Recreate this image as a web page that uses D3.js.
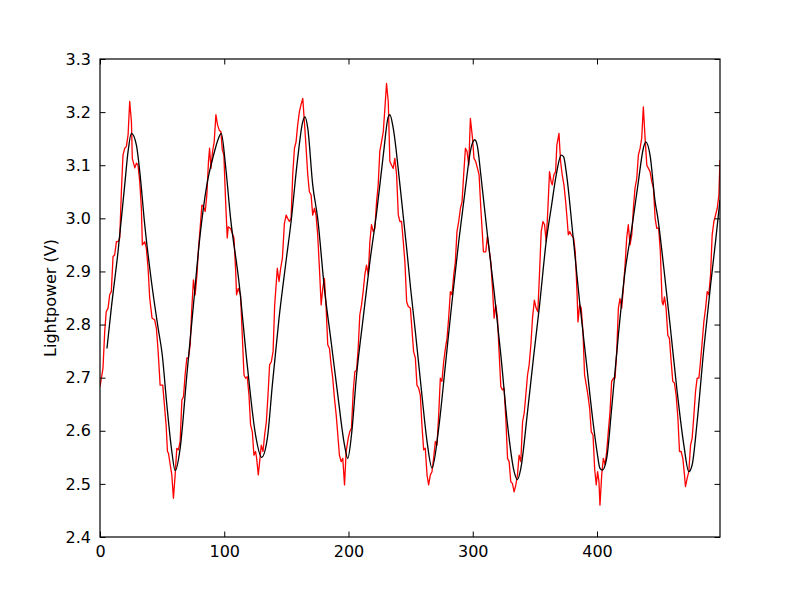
<!DOCTYPE html>
<html>
<head>
<meta charset="utf-8">
<script src="https://cdn.jsdelivr.net/npm/d3@7"></script>
<style>
  html, body { margin: 0; padding: 0; background: #fff; }
  svg { display: block; }
  text { font-family: "DejaVu Sans", sans-serif; }
</style>
</head>
<body>
<svg id="chart" width="800" height="597"></svg>
<script>
// ---- data ----
const xTicks = [0, 100, 200, 300, 400];
const yTicks = [2.4, 2.5, 2.6, 2.7, 2.8, 2.9, 3.0, 3.1, 3.2, 3.3];
const yLabel = "Lightpower (V)";

const rawX = [0,2.4,3.8,5,6.5,7.8,9.1,10.5,11.8,13.2,14.5,15.9,17.2,18.5,19.9,21.2,22.6,23.9,25.3,26,28,29.3,30.6,32,33.3,34.1,36,37.3,38.7,40,41.9,44,45.4,46.8,48.4,50.5,51.6,53.2,54.3,55.1,56.5,57.8,59.1,60.5,61.8,63.1,64.5,65.9,67.2,68.5,69.9,71.2,72.6,73.9,75.2,76.6,78,79.3,80.6,82,83.3,84.7,86,87.3,88.2,89.3,90.6,91.9,93.3,94.6,96,97.3,98.4,99.7,101,102.4,103.2,105.1,106.5,107.8,109.1,109.9,111.3,113.1,114.5,115.9,117.2,118.5,119.9,121.2,122.6,123.9,125.2,126.1,127.4,128.5,129.8,131.2,132.5,133.9,135.2,136.5,137.9,139.3,140.6,142.7,144.1,145.4,146.8,148.4,149.8,151,152.4,153.8,155.1,156.5,157.8,159.1,160.5,161.8,163.2,164.5,165.9,167.2,168.5,169.9,171.2,172.6,173.9,175.2,176.6,178,179.3,180.6,182,183.3,184.7,186,187.3,188.7,190.1,191.4,192.7,194.1,195.4,196.8,198.1,199.8,201,202.4,203.8,205.1,206.5,207.8,209.1,210.5,211.8,213.1,214.5,215.9,217.2,218.5,219.9,221.2,222.6,223.9,225.2,226.6,228,229.3,230.6,232,233.3,234.7,236,237.3,238.7,240.1,241.4,242.7,244.1,245.4,246.8,248.1,249.8,251,252.4,253.8,255.1,256.5,257.8,259.1,260.5,261.8,263.2,264.5,265.9,267.2,268.5,269.9,271.2,272.6,273.9,275.2,276.6,278,279.3,280.6,282,283.3,284.7,286,287.3,288.7,290.1,291.4,292.7,294.1,295.4,296.8,298.1,299.8,301,302.4,303.8,305.1,306.5,307.8,308.6,310.5,311.8,313.1,314.5,315.9,317.2,318.5,319.9,321.2,322.6,323.9,325.2,326.6,328,329.3,330.6,331.9,333.3,334.7,336,337.3,338.7,340.1,341.4,342.7,344.1,345.4,346.8,348.1,349.6,351,352.4,353.8,355.1,356.5,357.8,359.1,360.5,361.8,363.1,364,365.3,366.7,367.7,369.4,370.7,372,373.4,374.8,376.1,376.9,378,379.3,381.2,382.5,383.9,384.7,386,387.3,388.7,390,391.4,392.7,394.1,395.4,396.8,398.1,399.4,400.5,401.6,402.4,403.8,405.1,406.5,407.8,409.1,410.5,411.8,413.2,414.5,415.9,417.2,418.5,419.9,421.2,422.6,423.9,425.2,426.6,428,429.3,430.6,432,433.3,434.7,436,437.3,438.7,440.1,441.4,442.7,444.1,445.4,446.8,448.1,449.6,451,452.4,453.2,454.3,455.6,457,458.3,459.7,461,462.3,463.7,465.1,466.4,467.7,469.1,470.4,471.2,472.6,473.9,475.3,476.6,478,479.3,480.6,482,483.3,484.7,486,487.4,488.7,490,491.4,492.7,494.1,495.4,496.8,498.1,499];
const rawY = [2.683,2.718,2.787,2.824,2.831,2.856,2.862,2.928,2.931,2.956,2.956,2.963,3.05,3.119,3.132,3.135,3.157,3.22,3.182,3.113,3.095,3.104,3.1,3.069,3.019,2.95,2.956,2.944,2.906,2.85,2.812,2.809,2.793,2.749,2.686,2.686,2.655,2.611,2.561,2.558,2.536,2.517,2.473,2.517,2.567,2.564,2.58,2.658,2.664,2.705,2.737,2.737,2.762,2.831,2.884,2.856,2.893,2.944,2.981,3.025,3.022,3.013,3.044,3.107,3.132,3.094,3.126,3.144,3.195,3.176,3.166,3.163,3.13,3.119,3.038,2.963,2.984,2.981,2.972,2.963,2.906,2.856,2.868,2.856,2.78,2.705,2.699,2.702,2.667,2.611,2.598,2.554,2.561,2.548,2.517,2.542,2.573,2.561,2.592,2.617,2.667,2.724,2.73,2.749,2.837,2.906,2.881,2.906,2.925,2.99,3.006,3.0,2.994,3.0,3.082,3.132,3.144,3.176,3.201,3.214,3.226,3.182,3.132,3.082,3.05,3.044,3.006,3.019,3.006,2.969,2.906,2.837,2.868,2.887,2.831,2.762,2.755,2.724,2.699,2.661,2.63,2.592,2.554,2.542,2.548,2.498,2.561,2.586,2.598,2.605,2.674,2.711,2.714,2.755,2.818,2.837,2.862,2.893,2.912,2.893,2.956,2.988,2.975,2.981,3.031,3.063,3.126,3.144,3.163,3.207,3.254,3.22,3.107,3.1,3.094,3.113,3.082,3.006,2.994,2.994,2.956,2.918,2.843,2.834,2.831,2.793,2.749,2.737,2.686,2.68,2.667,2.611,2.564,2.567,2.517,2.498,2.517,2.523,2.548,2.58,2.573,2.63,2.699,2.693,2.73,2.755,2.774,2.812,2.862,2.856,2.893,2.918,2.975,2.994,3.019,3.031,3.082,3.132,3.126,3.1,3.188,3.151,3.113,3.107,3.094,3.082,3.019,2.969,2.937,2.937,2.966,2.944,2.918,2.868,2.812,2.837,2.812,2.749,2.683,2.677,2.68,2.624,2.548,2.542,2.504,2.501,2.485,2.498,2.517,2.554,2.542,2.617,2.633,2.667,2.705,2.724,2.762,2.812,2.846,2.831,2.824,2.9,2.975,2.994,2.988,2.956,3.019,3.088,3.069,3.063,3.082,3.088,3.138,3.16,3.107,3.082,3.063,3.031,2.994,2.969,2.975,2.969,2.963,2.937,2.862,2.805,2.837,2.831,2.787,2.705,2.686,2.667,2.642,2.598,2.592,2.529,2.498,2.523,2.504,2.46,2.517,2.548,2.536,2.561,2.598,2.636,2.693,2.699,2.699,2.749,2.831,2.849,2.831,2.868,2.912,2.963,2.988,2.95,2.969,3.019,3.057,3.075,3.119,3.132,3.151,3.21,3.151,3.1,3.094,3.088,3.069,3.057,3.0,2.981,2.982,2.937,2.843,2.837,2.852,2.831,2.78,2.774,2.73,2.693,2.69,2.667,2.624,2.561,2.561,2.548,2.517,2.495,2.511,2.523,2.573,2.586,2.63,2.674,2.699,2.699,2.73,2.768,2.805,2.831,2.862,2.856,2.893,2.969,2.994,3.006,3.019,3.044,3.11];

const smoothX = [5.6,9.1,14.5,19.9,22.6,25.3,29.3,32,36,41.4,46.8,50,53.8,57.8,60.5,64.5,69.9,75.2,80.6,86,91.4,95.4,97.6,101,105.1,111.8,118.5,125.2,130.1,134.7,138.7,144.1,149.5,153.8,159.1,163.2,165,167.2,171.2,175.2,180.6,186,191.4,196.8,199.4,202.4,206.5,211.8,217.2,222.6,228,232,233.3,236,241.4,246.8,250,253.8,259.1,263.2,267.2,272.6,278,283.3,288.7,294.1,298.4,301.6,303.8,306.5,311.8,317.2,322.6,328,333.3,336,338.7,344.1,349,353.8,359.1,363.1,367.2,371.2,373.1,375.2,380.6,386,391.4,396.8,400,402.4,404.3,407.8,411.8,417.2,422.6,428,433.3,437.3,439.2,442.7,446.8,449,453.8,459.1,464.5,469.9,473.9,476.6,480.6,486,491.4,495.4,499];
const smoothY = [2.755,2.831,2.937,3.063,3.126,3.16,3.138,3.088,2.988,2.881,2.793,2.745,2.649,2.561,2.525,2.567,2.705,2.837,2.969,3.063,3.119,3.151,3.16,3.1,3.0,2.881,2.724,2.592,2.55,2.586,2.686,2.812,2.915,2.994,3.113,3.182,3.191,3.17,3.063,3.0,2.868,2.768,2.667,2.573,2.548,2.592,2.705,2.812,2.918,3.01,3.119,3.191,3.195,3.17,3.063,2.944,2.868,2.787,2.667,2.58,2.53,2.605,2.724,2.843,2.956,3.057,3.13,3.148,3.135,3.082,2.969,2.862,2.743,2.611,2.523,2.508,2.529,2.636,2.74,2.837,2.956,3.019,3.082,3.119,3.116,3.088,2.969,2.843,2.73,2.617,2.561,2.529,2.526,2.548,2.642,2.78,2.9,2.981,3.069,3.132,3.144,3.119,3.031,3.0,2.906,2.793,2.674,2.573,2.523,2.536,2.617,2.755,2.874,2.956,3.035];

// ---- layout ----
const svg = d3.select("#chart");
const margin = { left: 100, right: 80, top: 59, bottom: 60 };
const W = 800, H = 597;
const iw = W - margin.left - margin.right;
const ih = H - margin.top - margin.bottom;

const x = d3.scaleLinear().domain([0, 499]).range([margin.left, margin.left + iw]);
const y = d3.scaleLinear().domain([2.4, 3.3]).range([margin.top + ih, margin.top]);

const g = svg.append("g");
const clipId = "plotclip";
svg.append("defs").append("clipPath").attr("id", clipId)
  .append("rect").attr("x", margin.left).attr("y", margin.top).attr("width", iw).attr("height", ih);

const rawData = rawX.map((d, i) => [d, rawY[i]]);
const smoothData = smoothX.map((d, i) => [d, smoothY[i]]);

g.append("path")
  .datum(rawData)
  .attr("clip-path", `url(#${clipId})`)
  .attr("fill", "none")
  .attr("stroke", "#ff0000")
  .attr("stroke-width", 1.3)
  .attr("stroke-linejoin", "round")
  .attr("d", d3.line().x(d => x(d[0])).y(d => y(d[1])));

g.append("path")
  .datum(smoothData)
  .attr("clip-path", `url(#${clipId})`)
  .attr("fill", "none")
  .attr("stroke", "#000000")
  .attr("stroke-width", 1.3)
  .attr("d", d3.line().curve(d3.curveMonotoneX).x(d => x(d[0])).y(d => y(d[1])));

// ---- axes (matplotlib classic: inward ticks on all sides) ----
const tickLen = 5.5;
const fmtY = d => d.toFixed(1);

const bottomAxis = d3.axisBottom(x).tickValues(xTicks).tickSizeInner(-tickLen).tickSizeOuter(0).tickPadding(9).tickFormat(d3.format("d"));
const topAxis = d3.axisTop(x).tickValues(xTicks).tickSizeInner(-tickLen).tickSizeOuter(0).tickFormat("");
const leftAxis = d3.axisLeft(y).tickValues(yTicks).tickSizeInner(-tickLen).tickSizeOuter(0).tickPadding(9).tickFormat(fmtY);
const rightAxis = d3.axisRight(y).tickValues(yTicks).tickSizeInner(-tickLen).tickSizeOuter(0).tickFormat("");

function styleAxis(sel) {
  sel.select(".domain").remove();
  sel.selectAll(".tick line").attr("stroke", "#000").attr("stroke-width", 1);
  sel.selectAll(".tick text").attr("fill", "#000").style("font-size", "16px").style("font-family", "'DejaVu Sans', sans-serif");
}

svg.append("g").attr("transform", `translate(0,${margin.top + ih})`).call(bottomAxis).call(styleAxis);
svg.append("g").attr("transform", `translate(0,${margin.top})`).call(topAxis).call(styleAxis);
svg.append("g").attr("transform", `translate(${margin.left},0)`).call(leftAxis).call(styleAxis);
svg.append("g").attr("transform", `translate(${margin.left + iw},0)`).call(rightAxis).call(styleAxis);

// frame
svg.append("rect")
  .attr("x", margin.left).attr("y", margin.top)
  .attr("width", iw).attr("height", ih)
  .attr("fill", "none").attr("stroke", "#000").attr("stroke-width", 1.2);

// y label
svg.append("text")
  .attr("transform", `translate(56,${margin.top + ih / 2}) rotate(-90)`)
  .attr("text-anchor", "middle")
  .style("font-size", "16px")
  .attr("fill", "#000")
  .text(yLabel);
</script>
</body>
</html>
